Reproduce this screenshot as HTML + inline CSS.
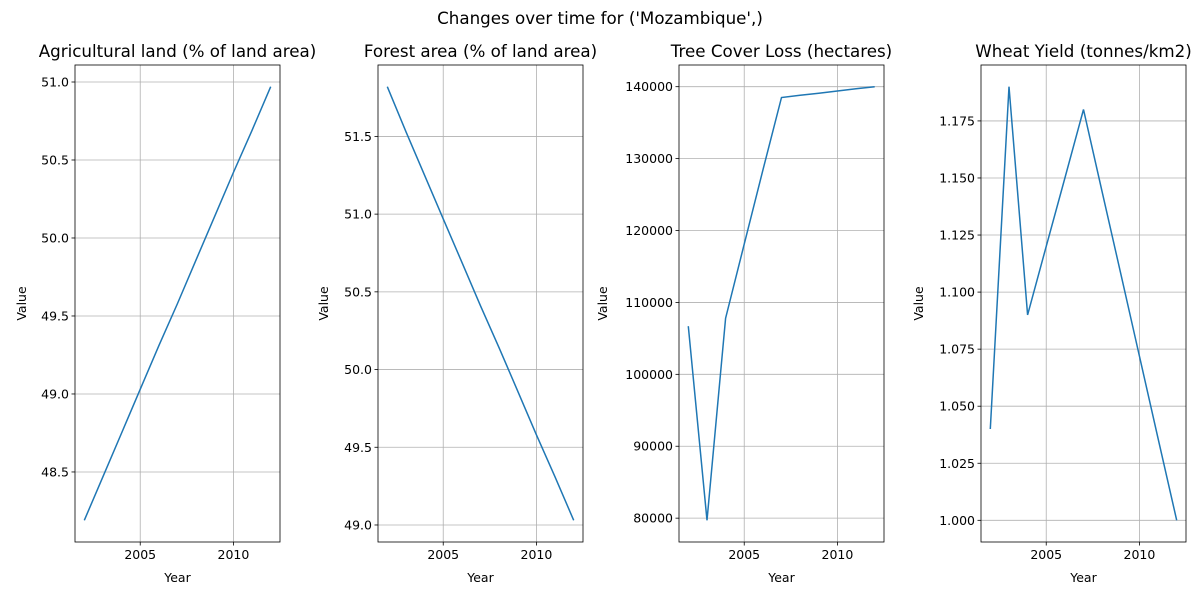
<!DOCTYPE html>
<html><head><meta charset="utf-8"><style>
body{margin:0;background:#fff;}
svg{font-family:"DejaVu Sans","Liberation Sans",sans-serif;}
</style></head><body>
<svg id="chart" width="1200" height="600" xmlns="http://www.w3.org/2000/svg">
<rect width="1200" height="600" fill="#fff"/>
<text x="600" y="24" text-anchor="middle" font-size="16.7">Changes over time for ('Mozambique',)</text>
</svg>
<script>
const years = [2002,2003,2004,2005,2006,2007,2008,2009,2010,2011,2012];
const agriValues = [48.19,48.47,48.75,49.03,49.31,49.58,49.86,50.14,50.42,50.69,50.97];
const forestValues = [51.82,51.53,51.25,50.97,50.69,50.41,50.14,49.86,49.58,49.31,49.03];
const lossValues = [106700,79700,107800,118100,128400,138500,138800,139100,139400,139700,140000];
const wheatValues = [1.040,1.190,1.090,1.120,1.150,1.180,1.144,1.108,1.072,1.036,1.000];
const panelTitles = ["Agricultural land (% of land area)","Forest area (% of land area)","Tree Cover Loss (hectares)","Wheat Yield (tonnes/km2)"];
const xTicks = [2005,2010];
const agriTicks = [48.5,49.0,49.5,50.0,50.5,51.0];
const forestTicks = [49.0,49.5,50.0,50.5,51.0,51.5];
const lossTicks = [80000,90000,100000,110000,120000,130000,140000];
const wheatTicks = [1.000,1.025,1.050,1.075,1.100,1.125,1.150,1.175];

const NS="http://www.w3.org/2000/svg";
const svg=document.getElementById('chart');
function mk(tag,attrs,parent){const e=document.createElementNS(NS,tag);for(const k in attrs)e.setAttribute(k,attrs[k]);(parent||svg).appendChild(e);return e;}

const lefts=[75,378,679,981];
const W=205, TOP=65, BOT=542;
const series=[agriValues,forestValues,lossValues,wheatValues];
const ticksets=[agriTicks,forestTicks,lossTicks,wheatTicks];
const fmts=[v=>v.toFixed(1),v=>v.toFixed(1),v=>String(Math.round(v)),v=>v.toFixed(3)];

series.forEach((vals,i)=>{
  const L=lefts[i], R=L+W;
  const g=mk('g',{});
  
  
  const x0=Math.min(...years), x1=Math.max(...years), xm=(x1-x0)*0.05;
  const y0=Math.min(...vals), y1=Math.max(...vals), ym=(y1-y0)*0.05;
  const sx=v=>L+(v-(x0-xm))/((x1+xm)-(x0-xm))*W;
  const sy=v=>BOT-(v-(y0-ym))/((y1+ym)-(y0-ym))*(BOT-TOP);
  xTicks.forEach(t=>{
    const x=sx(t);
    const gl=mk('line',{x1:x,x2:x,y1:TOP,y2:BOT,stroke:'#b0b0b0','stroke-width':0.8},g);
    
    
    mk('line',{x1:x,x2:x,y1:BOT,y2:BOT+3.5,stroke:'#000','stroke-width':0.8},g);
    const tx=mk('text',{x:x,y:BOT+17,'text-anchor':'middle','font-size':12.5},g);
    tx.textContent=t;
    
    
  });
  ticksets[i].forEach(t=>{
    const y=sy(t);
    const gl=mk('line',{x1:L,x2:R,y1:y,y2:y,stroke:'#b0b0b0','stroke-width':0.8},g);
    
    
    mk('line',{x1:L-3.5,x2:L,y1:y,y2:y,stroke:'#000','stroke-width':0.8},g);
    const tx=mk('text',{x:L-6,y:y+4.5,'text-anchor':'end','font-size':12.5},g);
    tx.textContent=fmts[i](t);
    
    
  });
  const pts=vals.map((v,j)=>sx(years[j]).toFixed(1)+','+sy(v).toFixed(1)).join(' ');
  const pl=mk('polyline',{points:pts,fill:'none',stroke:'#1f77b4','stroke-width':1.5},g);
  
  
  const fr=mk('rect',{x:L,y:TOP,width:W,height:BOT-TOP,fill:'none',stroke:'#000','stroke-width':0.8},g);
  
  
  const tt=mk('text',{x:L+W/2,y:TOP-8,'text-anchor':'middle','font-size':16.7},g);
  tt.textContent=panelTitles[i];
  
  
  const xl=mk('text',{x:L+W/2,y:582,'text-anchor':'middle','font-size':12.5},g);
  xl.textContent='Year';
  
  
  const lblX=[26,328,607,923][i];
  const yl=mk('text',{x:lblX,y:(TOP+BOT)/2,'text-anchor':'middle','font-size':12.5,transform:'rotate(-90 '+lblX+' '+((TOP+BOT)/2)+')'},g);
  yl.textContent='Value';
  
  
});
</script>
</body></html>
